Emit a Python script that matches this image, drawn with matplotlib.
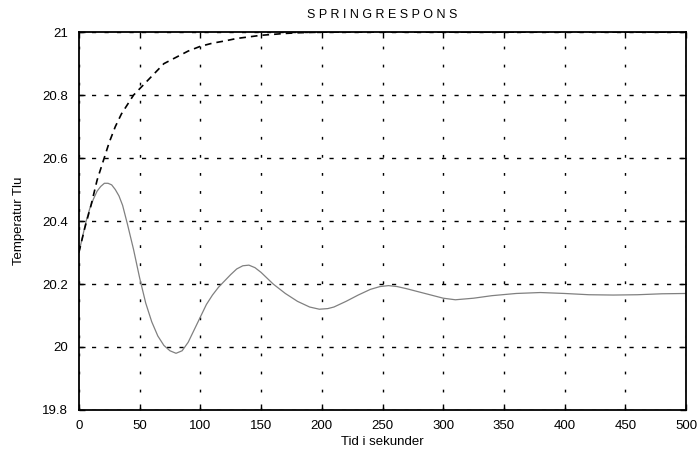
import matplotlib.pyplot as plt
import numpy as np

plt.rcParams['font.family'] = ['Liberation Sans', 'DejaVu Sans']

# Stegrespons, temperatur Tlu
t_streck = [0, 5, 10, 15, 20, 25, 30, 35, 40, 45, 50, 60, 70, 80, 90, 100,
            110, 120, 130, 140, 150, 160, 170, 180, 200, 250, 300, 400, 500]
tlu_streck = [20.30, 20.38, 20.45, 20.53, 20.59, 20.65, 20.70, 20.74, 20.77, 20.80,
              20.82, 20.86, 20.90, 20.92, 20.94, 20.955, 20.965, 20.972, 20.98,
              20.985, 20.99, 20.993, 20.996, 20.998, 21.0, 21.0, 21.0, 21.0, 21.0]

t_heltrukken = [0, 3, 6, 9, 12, 15, 18, 21, 24, 27, 30, 33, 36, 40, 45, 50, 55,
                60, 65, 70, 75, 80, 85, 90, 95, 100, 105, 110, 115, 120, 125, 130,
                135, 140, 145, 150, 160, 170, 180, 190, 198, 205, 210, 220, 230,
                240, 248, 255, 262, 270, 285, 300, 310, 325, 340, 360, 380, 400,
                420, 440, 460, 480, 500]
tlu_heltrukken = [20.30, 20.35, 20.40, 20.44, 20.47, 20.495, 20.51, 20.52, 20.52,
                  20.515, 20.50, 20.48, 20.45, 20.39, 20.31, 20.22, 20.14, 20.08,
                  20.035, 20.005, 19.988, 19.98, 19.988, 20.015, 20.055, 20.095,
                  20.135, 20.165, 20.19, 20.21, 20.23, 20.248, 20.258, 20.26,
                  20.252, 20.237, 20.20, 20.17, 20.145, 20.127, 20.12, 20.122,
                  20.127, 20.145, 20.165, 20.183, 20.192, 20.195, 20.192, 20.185,
                  20.17, 20.155, 20.15, 20.155, 20.163, 20.17, 20.173, 20.17,
                  20.166, 20.165, 20.166, 20.169, 20.17]

xticks = np.arange(0, 501, 50)
yticks = [19.8, 20, 20.2, 20.4, 20.6, 20.8, 21]
ytick_labels = ['19.8', '20', '20.2', '20.4', '20.6', '20.8', '21']

fig = plt.figure(figsize=(6.98, 4.53), dpi=100)
ax = fig.add_axes([0.113, 0.095, 0.870, 0.834])

ax.plot(t_heltrukken, tlu_heltrukken, color='#808080', linewidth=0.9)
ax.plot(t_streck, tlu_streck, color='black', linewidth=1.2, linestyle=(0, (4, 3)))

ax.set_xlim(0, 500)
ax.set_ylim(19.8, 21)
ax.set_xticks(xticks)
ax.set_yticks(yticks)
ax.set_yticklabels(ytick_labels)

ax.xaxis.grid(True, color='black', linestyle=(0, (2, 11)), linewidth=1.0)
ax.yaxis.grid(True, color='black', linestyle=(0, (3, 6)), linewidth=1.0)

ax.tick_params(direction='in', top=True, right=True, length=4, width=1,
               labelsize=9.5)
ax.tick_params(axis='x', pad=7)
ax.tick_params(axis='y', pad=8)
for s in ax.spines.values():
    s.set_linewidth(1.3)

ax.set_title('S P R I N G R E S P O N S', fontsize=9, pad=10)
ax.set_xlabel('Tid i sekunder', fontsize=9.5, labelpad=3)
ax.set_ylabel('Temperatur Tlu', fontsize=9.5, labelpad=12)

fig.savefig('out.png', dpi=100)
